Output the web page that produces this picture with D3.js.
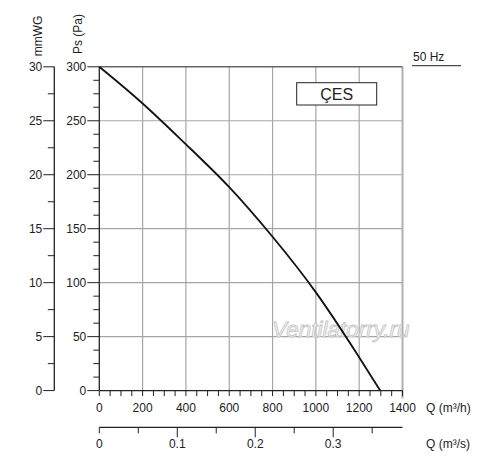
<!DOCTYPE html>
<html>
<head>
<meta charset="utf-8">
<script src="https://cdn.jsdelivr.net/npm/d3@7"></script>
<style>
  body { margin: 0; background: #fff; }
  svg { display: block; font-family: "Liberation Sans", Arial, sans-serif; }
</style>
</head>
<body>
<svg id="chart" width="500" height="464"></svg>
<script>
// curve: flow Q (m3/h) vs static pressure Ps (Pa)
var flowQ = [0, 200, 400, 600, 800, 1000, 1200, 1297];
var pressurePs = [300, 267, 228, 190, 143, 93, 31, 0];

var qTicks = [0, 200, 400, 600, 800, 1000, 1200, 1400];
var psTicks = [0, 50, 100, 150, 200, 250, 300];
var mmTicks = [0, 5, 10, 15, 20, 25, 30];
var m3sTicks = [0, 0.1, 0.2, 0.3];

var svg = d3.select("#chart");

var x = d3.scaleLinear().domain([0, 1400]).range([99.3, 402.5]);
var y = d3.scaleLinear().domain([0, 300]).range([390.6, 66.8]);
var yMm = d3.scaleLinear().domain([0, 30]).range([390.6, 66.8]);
var xS = d3.scaleLinear().domain([0, 1400 / 3600]).range([99.3, 402.5]);

var dark = "#222";
var grid = "#a6a6a6";

// grid
svg.append("g").selectAll("line").data(qTicks.slice(1, -1)).join("line")
  .attr("x1", d => x(d)).attr("x2", d => x(d))
  .attr("y1", y(300)).attr("y2", y(0))
  .attr("stroke", grid).attr("stroke-width", 1.2);
svg.append("g").selectAll("line").data(psTicks.slice(1, -1)).join("line")
  .attr("x1", x(0)).attr("x2", x(1400))
  .attr("y1", d => y(d)).attr("y2", d => y(d))
  .attr("stroke", grid).attr("stroke-width", 1.2);

// frame: right and top
svg.append("line")
  .attr("x1", x(1400)).attr("x2", x(1400)).attr("y1", y(300)).attr("y2", y(0) + 8)
  .attr("stroke", "#b0b0b0").attr("stroke-width", 2);
svg.append("line")
  .attr("x1", x(0)).attr("x2", x(1400)).attr("y1", y(300)).attr("y2", y(300))
  .attr("stroke", "#666").attr("stroke-width", 1.5);

// Pa axis
var gPa = svg.append("g").attr("transform", "translate(" + x(0) + ",0)");
gPa.append("line").attr("y1", y(300)).attr("y2", y(0)).attr("stroke", dark).attr("stroke-width", 1.3);
gPa.selectAll(".mn").data(d3.range(0, 300.1, 12.5)).join("line")
  .attr("x1", d => d % 50 === 0 ? -12 : -6).attr("x2", 0)
  .attr("y1", d => y(d)).attr("y2", d => y(d))
  .attr("stroke", dark).attr("stroke-width", 1);
gPa.selectAll("text").data(psTicks).join("text")
  .attr("x", -13).attr("y", d => y(d)).attr("dy", "0.35em")
  .attr("text-anchor", "end").attr("font-size", 12).attr("fill", dark)
  .text(d => d);

// mmWG axis
var gMm = svg.append("g").attr("transform", "translate(54.3,0)");
gMm.append("line").attr("y1", yMm(30)).attr("y2", yMm(0)).attr("stroke", dark).attr("stroke-width", 1.3);
gMm.selectAll("line.t").data(d3.range(0, 30.1, 2.5)).join("line")
  .attr("x1", d => d % 5 === 0 ? -11 : -6.5).attr("x2", 0)
  .attr("y1", d => yMm(d)).attr("y2", d => yMm(d))
  .attr("stroke", dark).attr("stroke-width", 1);
gMm.selectAll("text").data(mmTicks).join("text")
  .attr("x", -12).attr("y", d => yMm(d)).attr("dy", "0.35em")
  .attr("text-anchor", "end").attr("font-size", 12).attr("fill", dark)
  .text(d => d);

// axis titles
svg.append("text").attr("transform", "translate(41.5,36) rotate(-90)")
  .attr("text-anchor", "middle").attr("font-size", 12).attr("fill", dark).text("mmWG");
svg.append("text").attr("transform", "translate(81.5,34) rotate(-90)")
  .attr("text-anchor", "middle").attr("font-size", 12).attr("fill", dark).text("Ps (Pa)");

// Q m3/h axis
var gQ = svg.append("g").attr("transform", "translate(0," + y(0) + ")");
gQ.append("line").attr("x1", x(0)).attr("x2", x(1400)).attr("stroke", dark).attr("stroke-width", 1.3);
gQ.selectAll("line.t").data(d3.range(0, 1400.1, 50)).join("line")
  .attr("x1", d => x(d)).attr("x2", d => x(d))
  .attr("y1", 0).attr("y2", 5.5)
  .attr("stroke", dark).attr("stroke-width", 1);
gQ.selectAll("text").data(qTicks).join("text")
  .attr("x", d => x(d)).attr("y", 17.5).attr("dy", "0.35em")
  .attr("text-anchor", "middle").attr("font-size", 12).attr("fill", dark)
  .text(d => d);
gQ.append("text").attr("x", 426).attr("y", 17.5).attr("dy", "0.35em")
  .attr("font-size", 12).attr("fill", dark).text("Q (m³/h)");

// Q m3/s axis
var gS = svg.append("g").attr("transform", "translate(0,427.3)");
gS.append("line").attr("x1", x(0)).attr("x2", x(1400)).attr("stroke", dark).attr("stroke-width", 1.3);
gS.selectAll("line.t").data(d3.range(0, 0.3501, 0.05)).join("line")
  .attr("x1", d => xS(d)).attr("x2", d => xS(d))
  .attr("y1", 0).attr("y2", d => (d > 0.01 && Math.abs(d * 10 - Math.round(d * 10)) < 1e-6) ? 10 : 6)
  .attr("stroke", dark).attr("stroke-width", 1);
gS.selectAll("text").data(m3sTicks).join("text")
  .attr("x", d => xS(d)).attr("y", 17).attr("dy", "0.35em")
  .attr("text-anchor", "middle").attr("font-size", 12).attr("fill", dark)
  .text(d => d);
gS.append("text").attr("x", 426).attr("y", 17).attr("dy", "0.35em")
  .attr("font-size", 12).attr("fill", dark).text("Q (m³/s)");

// watermark
svg.append("text").attr("x", 272).attr("y", 337)
  .attr("font-size", 22.5).attr("font-style", "italic")
  .attr("fill", "#f7f7f7").attr("stroke", "#c8c8c8").attr("stroke-width", 0.9)
  .text("Ventilatorry.ru");

// fan curve
var pts = flowQ.map((q, i) => [q, pressurePs[i]]);
svg.append("path").datum(pts)
  .attr("fill", "none").attr("stroke", "#111").attr("stroke-width", 1.8)
  .attr("d", d3.line().x(d => x(d[0])).y(d => y(d[1])).curve(d3.curveBasis));

// model label box
svg.append("rect").attr("x", 296.7).attr("y", 82.7).attr("width", 80).attr("height", 22.3)
  .attr("fill", "#fff").attr("stroke", dark).attr("stroke-width", 1);
svg.append("text").attr("x", 336.7).attr("y", 94).attr("dy", "0.36em")
  .attr("text-anchor", "middle").attr("font-size", 16).attr("fill", dark).text("ÇES");

// frequency
svg.append("text").attr("x", 413).attr("y", 57).attr("dy", "0.35em")
  .attr("font-size", 12).attr("fill", dark).text("50 Hz");
svg.append("line").attr("x1", 412).attr("x2", 461).attr("y1", 65.7).attr("y2", 65.7)
  .attr("stroke", dark).attr("stroke-width", 1);
</script>
</body>
</html>
